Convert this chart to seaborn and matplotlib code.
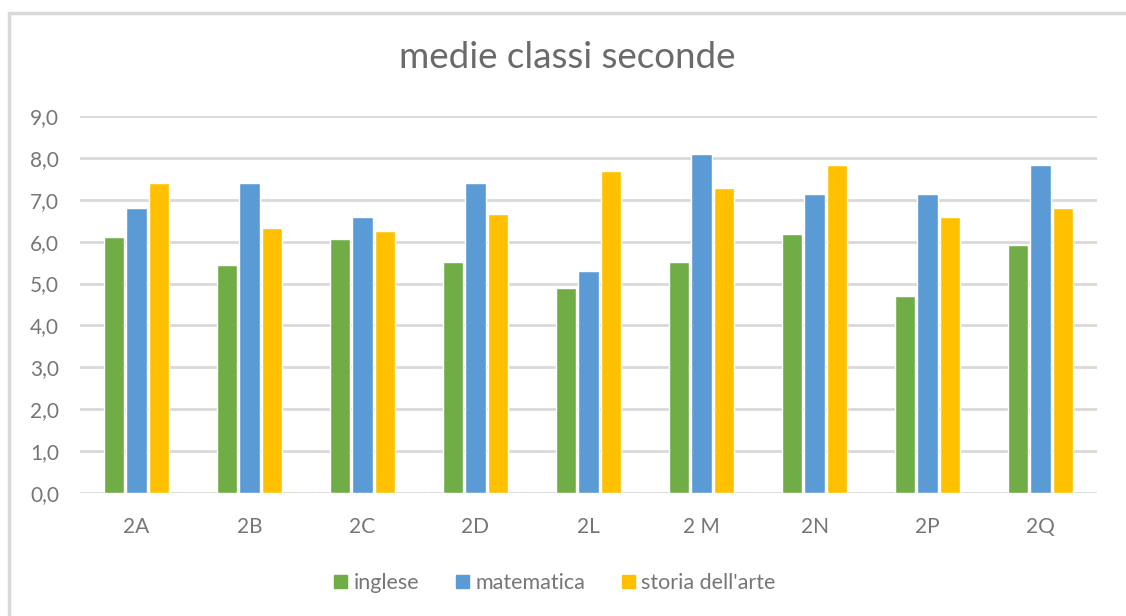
import pandas as pd
import seaborn as sns
import matplotlib.pyplot as plt
from matplotlib.lines import Line2D
from matplotlib.patches import Patch
from matplotlib.ticker import FuncFormatter

# medie per classe
classi = ['2A', '2B', '2C', '2D', '2L', '2 M', '2N', '2P', '2Q']
inglese = [6.10, 5.44, 6.06, 5.51, 4.89, 5.51, 6.18, 4.70, 5.92]
matematica = [6.80, 7.40, 6.59, 7.40, 5.30, 8.09, 7.14, 7.14, 7.83]
storia_arte = [7.40, 6.32, 6.25, 6.66, 7.68, 7.28, 7.83, 6.59, 6.80]
materie = ['inglese', 'matematica', "storia dell'arte"]
colori = ['#70AD47', '#5B9BD5', '#FFC000']

df = pd.DataFrame({'classe': classi, 'inglese': inglese,
                   'matematica': matematica, "storia dell'arte": storia_arte})
df = df.melt(id_vars='classe', var_name='materia', value_name='media')

sns.set_style('white')
plt.rcParams['font.family'] = ['Lato', 'DejaVu Sans']
testo = '#767676'

fig = plt.figure(figsize=(11.26, 6.16), dpi=100)
ax = fig.add_axes([80 / 1126, 1 - 493 / 616, (1097 - 80) / 1126, (493 - 116) / 616])

sns.barplot(data=df, x='classe', y='media', hue='materia', order=classi,
            hue_order=materie, palette=colori, width=0.6, gap=0.1,
            saturation=1, legend=False, ax=ax)

ax.set_ylim(0, 9)
ax.set_xlim(-0.5, len(classi) - 0.5)
ax.set_yticks(range(10))
ax.yaxis.set_major_formatter(FuncFormatter(lambda v, p: f'{v:.1f}'.replace('.', ',')))
ax.grid(axis='y', color='#D9D9D9', linewidth=2)
ax.set_axisbelow(True)
for s in ax.spines.values():
    s.set_visible(False)
ax.tick_params(axis='y', length=0, pad=15, labelsize=15, labelcolor=testo)
ax.tick_params(axis='x', length=0, pad=17, labelsize=15, labelcolor=testo)
ax.set_xlabel('')
ax.set_ylabel('')

fig.text(567 / 1126, 1 - 57 / 616, 'medie classi seconde', ha='center', va='center',
         fontsize=26.5, color='#6a6a6a')

handles = [Patch(color=c, label=m) for c, m in zip(colori, materie)]
fig.legend(handles=handles, loc='center', bbox_to_anchor=(555 / 1126, 1 - 583 / 616),
           ncol=3, frameon=False, fontsize=15.5, labelcolor=testo,
           handlelength=0.6, handleheight=0.6, handletextpad=0.3, columnspacing=1.7)

# bordo del grafico
fig.add_artist(Line2D([9 / 1126, 1], [1 - 13 / 616] * 2, color='#D9D9D9', lw=2.5))
fig.add_artist(Line2D([9 / 1126] * 2, [0, 1 - 13 / 616], color='#D9D9D9', lw=2.5))

fig.savefig('out.png', dpi=100, facecolor='white')
